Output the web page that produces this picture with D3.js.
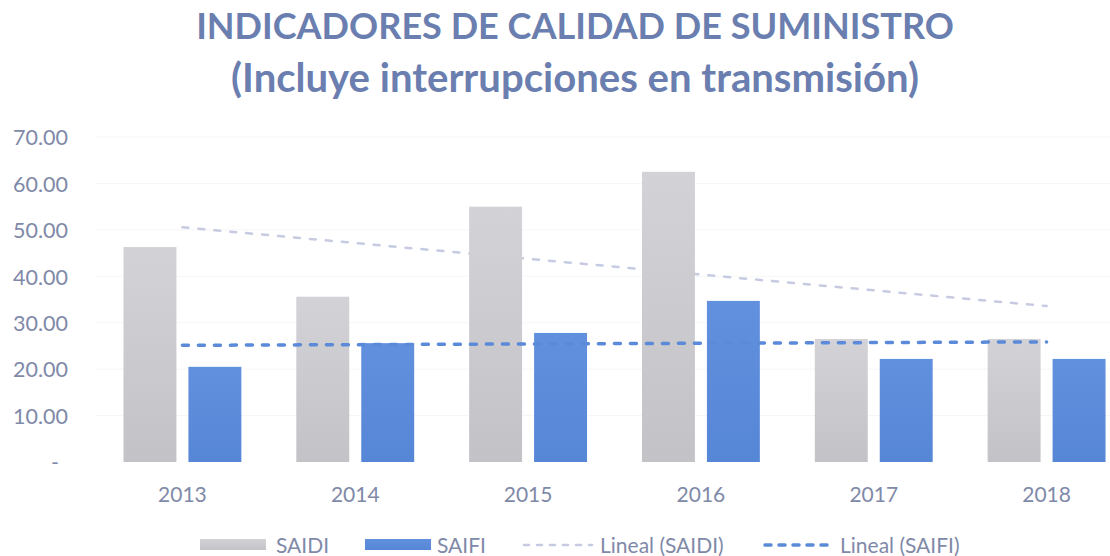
<!DOCTYPE html>
<html>
<head>
<meta charset="utf-8">
<script src="https://cdn.jsdelivr.net/npm/d3@7"></script>
<style>
  html, body { margin: 0; padding: 0; background: #ffffff; }
  svg { display: block; font-family: Lato, "Open Sans", "DejaVu Sans", sans-serif; }
</style>
</head>
<body>
<svg id="chart" width="1110" height="556"></svg>
<script>
// Supply quality indicators per year
const years = ["2013", "2014", "2015", "2016", "2017", "2018"];
const saidi = [46.3, 35.6, 55.0, 62.5, 26.5, 26.5];
const saifi = [20.5, 25.6, 27.8, 34.7, 22.2, 22.2];
const seriesNames = ["SAIDI", "SAIFI"];
const yTicks = [0, 10, 20, 30, 40, 50, 60, 70];
const titleLines = ["INDICADORES DE CALIDAD DE SUMINISTRO", "(Incluye interrupciones en transmisión)"];
const legendLabels = ["SAIDI", "SAIFI", "Lineal (SAIDI)", "Lineal (SAIFI)"];

const colors = {
  trendSaidi: "#c6cbe1",
  trendSaifi: "#5b8ad9",
  text: "#8089a8",
  title: "#6a7eaf",
  grid: "#f6f6f8"
};

const svg = d3.select("#chart");

// gradients for the columns
const defs = svg.append("defs");
function grad(id, top, bottom) {
  const g = defs.append("linearGradient").attr("id", id)
    .attr("x1", 0).attr("y1", 0).attr("x2", 0).attr("y2", 1);
  g.append("stop").attr("offset", "0%").attr("stop-color", top);
  g.append("stop").attr("offset", "100%").attr("stop-color", bottom);
}
grad("gSaidi", "#d2d2d7", "#c2c2c7");
grad("gSaifi", "#6190de", "#5686d6");

// scales
const y = d3.scaleLinear().domain([0, 70]).range([462, 137]);
const x = d3.scaleBand().domain(years).range([96, 1133]).paddingInner(0.318).paddingOuter(0.159);
const xs = d3.scaleBand().domain(seriesNames).range([0, x.bandwidth()]).paddingInner(0.185).paddingOuter(0);

// two-line title, each line sized to its width
const titleSpec = [
  { text: titleLines[0], y: 39, width: 758, size: 36 },
  { text: titleLines[1], y: 92, width: 688, size: 36 }
];
titleSpec.forEach(t => {
  const el = svg.append("text")
    .attr("x", 575).attr("y", t.y)
    .attr("text-anchor", "middle")
    .attr("fill", colors.title)
    .attr("font-weight", 700)
    .attr("font-size", t.size)
    .text(t.text);
  const w = el.node().getComputedTextLength();
  el.attr("font-size", t.size * t.width / w);
});

// faint gridlines
svg.append("g").selectAll("line")
  .data(yTicks.slice(1))
  .join("line")
  .attr("x1", 96).attr("x2", 1110)
  .attr("y1", d => y(d)).attr("y2", d => y(d))
  .attr("stroke", colors.grid).attr("stroke-width", 1);

// y axis labels
const yAxis = d3.axisLeft(y)
  .tickValues(yTicks)
  .tickSize(0)
  .tickPadding(0)
  .tickFormat(d => d === 0 ? "-" : d3.format(".2f")(d));
const yg = svg.append("g").attr("transform", "translate(68,0)").call(yAxis);
yg.select(".domain").remove();
yg.selectAll("text")
  .attr("fill", colors.text)
  .attr("font-size", 21.5)
  .attr("font-family", "Lato, 'Open Sans', sans-serif")
  .attr("dy", "0.36em");
yg.selectAll(".tick").filter(d => d === 0).select("text").attr("dx", -9);

// x axis labels
const xAxis = d3.axisBottom(x).tickSize(0).tickPadding(0);
const xg = svg.append("g").attr("transform", "translate(0,486)").call(xAxis);
xg.select(".domain").remove();
xg.selectAll("text")
  .attr("fill", colors.text)
  .attr("font-size", 21)
  .attr("font-family", "Lato, 'Open Sans', sans-serif")
  .attr("dy", 16);

// least-squares linear trend over category index
function linearTrend(values) {
  const idx = values.map((_, i) => i + 1);
  const mx = d3.mean(idx), my = d3.mean(values);
  const num = d3.sum(values, (v, i) => (idx[i] - mx) * (v - my));
  const den = d3.sum(idx, xi => (xi - mx) * (xi - mx));
  const b = num / den, a = my - b * mx;
  return idx.map(xi => a + b * xi);
}
const center = yr => x(yr) + x.bandwidth() / 2;
const trendLine = d3.line().x(d => center(d.year)).y(d => y(d.value));

const tSaidi = linearTrend(saidi).map((v, i) => ({ year: years[i], value: v }));
const tSaifi = linearTrend(saifi).map((v, i) => ({ year: years[i], value: v }));

// SAIDI trend sits behind the columns
svg.append("path")
  .datum(tSaidi)
  .attr("d", trendLine)
  .attr("fill", "none")
  .attr("stroke", colors.trendSaidi)
  .attr("stroke-width", 2.5)
  .attr("stroke-linecap", "round")
  .attr("stroke-dasharray", "6,10");

// columns
const rows = years.map((yr, i) => ({ year: yr, SAIDI: saidi[i], SAIFI: saifi[i] }));
const groups = svg.append("g").selectAll("g")
  .data(rows)
  .join("g")
  .attr("transform", d => `translate(${x(d.year)},0)`);
groups.selectAll("rect")
  .data(d => seriesNames.map(k => ({ key: k, value: d[k] })))
  .join("rect")
  .attr("x", d => xs(d.key))
  .attr("width", xs.bandwidth())
  .attr("y", d => y(d.value))
  .attr("height", d => y(0) - y(d.value))
  .attr("fill", d => d.key === "SAIDI" ? "url(#gSaidi)" : "url(#gSaifi)");

// SAIFI trend on top
svg.append("path")
  .datum(tSaifi)
  .attr("d", trendLine)
  .attr("fill", "none")
  .attr("stroke", colors.trendSaifi)
  .attr("stroke-width", 3.5)
  .attr("stroke-linecap", "round")
  .attr("stroke-dasharray", "6,10");

// legend
const legend = svg.append("g").attr("transform", "translate(0,545)");
const legendItems = [
  { label: legendLabels[0], kind: "rect", fill: "url(#gSaidi)", x: 200, tx: 276 },
  { label: legendLabels[1], kind: "rect", fill: "url(#gSaifi)", x: 365, tx: 437 },
  { label: legendLabels[2], kind: "line", stroke: colors.trendSaidi, w: 2.5, dash: "5,8", x: 524, tx: 600 },
  { label: legendLabels[3], kind: "line", stroke: colors.trendSaifi, w: 3.5, dash: "6,8", x: 765, tx: 840 }
];
legendItems.forEach(it => {
  if (it.kind === "rect") {
    legend.append("rect")
      .attr("x", it.x).attr("y", -6).attr("width", 66).attr("height", 11)
      .attr("fill", it.fill);
  } else {
    legend.append("line")
      .attr("x1", it.x).attr("x2", it.x + 68).attr("y1", 0).attr("y2", 0)
      .attr("stroke", it.stroke).attr("stroke-width", it.w)
      .attr("stroke-linecap", "round")
      .attr("stroke-dasharray", it.dash);
  }
  legend.append("text")
    .attr("x", it.tx).attr("y", 0).attr("dy", "0.36em")
    .attr("fill", colors.text)
    .attr("font-size", 21)
    .text(it.label);
});
</script>
</body>
</html>
